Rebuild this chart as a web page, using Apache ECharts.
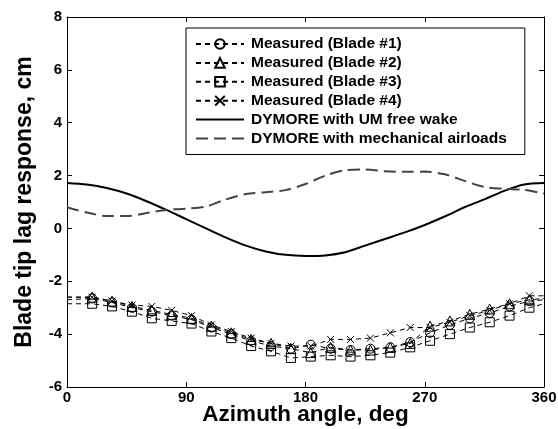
<!DOCTYPE html>
<html><head><meta charset="utf-8">
<script src="https://cdn.jsdelivr.net/npm/echarts@6/dist/echarts.min.js"></script>
<style>html,body{margin:0;padding:0;background:#fff}#c{width:558px;height:429px}</style>
</head><body><div id="c"></div>
<script>
var measuredAngles = [0,19,34,49,64,79,94,109,124,139,154,169,184,199,214,229,244,259,274,289,304,319,334,349,360];
var blade1 = [-2.7,-2.65,-2.8,-3.0,-3.15,-3.3,-3.45,-3.75,-4.0,-4.25,-4.45,-4.55,-4.4,-4.55,-4.6,-4.55,-4.5,-4.3,-3.95,-3.65,-3.4,-3.2,-2.95,-2.75,-2.7];
var blade2 = [-2.6,-2.6,-2.75,-2.95,-3.1,-3.25,-3.4,-3.7,-3.95,-4.2,-4.35,-4.55,-4.7,-4.5,-4.6,-4.6,-4.5,-4.35,-3.7,-3.5,-3.25,-3.05,-2.85,-2.7,-2.65];
var blade3 = [-2.85,-2.85,-2.95,-3.15,-3.4,-3.5,-3.6,-3.9,-4.15,-4.45,-4.65,-4.9,-4.85,-4.8,-4.85,-4.8,-4.7,-4.5,-4.25,-4.0,-3.75,-3.55,-3.3,-3.0,-2.85];
var blade4 = [-2.6,-2.6,-2.75,-2.9,-2.95,-3.1,-3.3,-3.65,-3.9,-4.15,-4.35,-4.45,-4.45,-4.2,-4.2,-4.15,-3.95,-3.75,-3.75,-3.55,-3.3,-3.1,-2.85,-2.55,-2.55];
var modelAngles = [0,15,30,45,60,75,90,105,120,135,150,165,180,195,210,225,240,255,270,285,300,315,330,345,360];
var umFreeWake = [1.72,1.66,1.53,1.32,1.03,0.7,0.35,0.0,-0.35,-0.65,-0.87,-1.0,-1.04,-1.02,-0.9,-0.65,-0.4,-0.15,0.13,0.45,0.8,1.1,1.42,1.66,1.72];
var mechAirloads = [0.8,0.6,0.47,0.47,0.58,0.7,0.75,0.83,1.1,1.3,1.37,1.45,1.68,2.0,2.2,2.23,2.16,2.14,2.15,2.05,1.8,1.57,1.5,1.46,1.32];
var seriesNames = ['Measured (Blade #1)','Measured (Blade #2)','Measured (Blade #3)','Measured (Blade #4)','DYMORE with UM free wake','DYMORE with mechanical airloads'];
var xTicks = {min:0, max:360, interval:90};
var yTicks = {min:-6, max:8, interval:2};

function measuredData(vals){
  return measuredAngles.map(function(a,i){
    var it = {value:[a, vals[i]]};
    if (i === 0 || i === measuredAngles.length-1) it.symbol = 'none';
    return it;
  });
}
function pairs(xs, ys){ return xs.map(function(a,i){ return [a, ys[i]]; }); }

var font = 'Liberation Sans, Arial, sans-serif';
var markerStyle = {color:'rgba(0,0,0,0)', borderColor:'#000', borderWidth:1};
function measuredSeries(name, vals, symbol, size){
  return {
    name:name, type:'line', data:measuredData(vals), symbol:symbol, symbolSize:size,
    showAllSymbol:true, lineStyle:{color:'#000', width:1, type:[5,4]},
    itemStyle:markerStyle, animation:false, z:3
  };
}

var legendData = seriesNames.map(function(n, i){
  return i < 4 ? {name:n} : {name:n, itemStyle:{opacity:0}};
});

var chart = echarts.init(document.getElementById('c'), null, {renderer:'canvas'});
chart.setOption({
  animation:false,
  backgroundColor:'#fff',
  grid:{left:67, right:14, top:17, bottom:42, containLabel:false, outerBoundsMode:'none'},
  legend:{
    left:186, top:28, orient:'vertical', padding:[8,18,8,9],
    itemWidth:48, itemHeight:12, itemGap:2.9,
    borderColor:'#000', borderWidth:1, backgroundColor:'#fff',
    textStyle:{fontFamily:font, fontWeight:'bold', fontSize:15.5, color:'#000', padding:[0,0,0,2]},
    data:legendData
  },
  xAxis:[{
    type:'value', min:xTicks.min, max:xTicks.max, interval:xTicks.interval,
    name:'Azimuth angle, deg', nameLocation:'middle', nameGap:16, nameMoveOverlap:false,
    nameTextStyle:{fontFamily:font, fontWeight:'bold', fontSize:22.5, color:'#000'},
    axisLine:{onZero:false, lineStyle:{color:'#000', width:1}},
    axisTick:{inside:true, length:5, lineStyle:{color:'#000'}},
    axisLabel:{fontFamily:font, fontWeight:'bold', fontSize:15, color:'#000', margin:3},
    splitLine:{show:false}
  },{
    type:'value', position:'top', min:xTicks.min, max:xTicks.max, interval:xTicks.interval,
    axisLine:{onZero:false, lineStyle:{color:'#000', width:1}},
    axisTick:{inside:true, length:5, lineStyle:{color:'#000'}},
    axisLabel:{show:false}, splitLine:{show:false}
  }],
  yAxis:[{
    type:'value', min:yTicks.min, max:yTicks.max, interval:yTicks.interval,
    name:'Blade tip lag response, cm', nameLocation:'middle', nameGap:31, nameMoveOverlap:false,
    nameTextStyle:{fontFamily:font, fontWeight:'bold', fontSize:23, color:'#000'},
    axisLine:{onZero:false, lineStyle:{color:'#000', width:1}},
    axisTick:{inside:true, length:5, lineStyle:{color:'#000'}},
    axisLabel:{fontFamily:font, fontWeight:'bold', fontSize:15, color:'#000', margin:5},
    splitLine:{show:false}
  },{
    type:'value', position:'right', min:yTicks.min, max:yTicks.max, interval:yTicks.interval,
    axisLine:{onZero:false, lineStyle:{color:'#000', width:1}},
    axisTick:{inside:true, length:5, lineStyle:{color:'#000'}},
    axisLabel:{show:false}, splitLine:{show:false}
  }],
  series:[
    measuredSeries(seriesNames[0], blade1, 'circle', 9),
    measuredSeries(seriesNames[1], blade2, 'triangle', 10),
    measuredSeries(seriesNames[2], blade3, 'rect', 9),
    measuredSeries(seriesNames[3], blade4, 'path://M0,0L10,10M0,10L10,0', 7),
    {name:seriesNames[4], type:'line', data:pairs(modelAngles, umFreeWake), symbol:'none', smooth:0.3,
     lineStyle:{color:'#000', width:2}, itemStyle:{color:'#000'}, z:2},
    {name:seriesNames[5], type:'line', data:pairs(modelAngles, mechAirloads), symbol:'none', smooth:0.3,
     lineStyle:{color:'#444', width:2, type:[12,6]}, itemStyle:{color:'#444'}, z:2}
  ]
});
</script></body></html>
